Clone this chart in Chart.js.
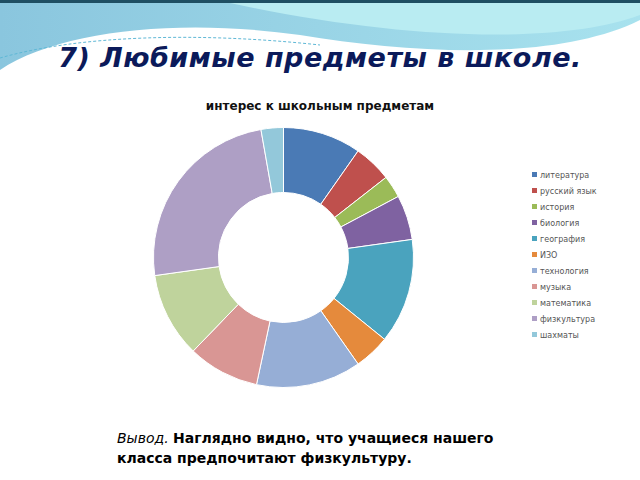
<!DOCTYPE html>
<html>
<head>
<meta charset="utf-8">
<script src="https://cdn.jsdelivr.net/npm/chart.js@4"></script>
<style>
  body { margin: 0; width: 640px; height: 480px; background: #fff; position: relative; overflow: hidden; font-family: "DejaVu Sans", sans-serif; }
  #deco { position: absolute; left: 0; top: 0; }
  #title { position: absolute; left: 0; width: 640px; top: 42px; text-align: center; font-size: 27px; font-weight: bold; font-style: italic; color: #0b1a5a; letter-spacing: 0.5px; }
  #ctitle { position: absolute; left: 150px; width: 340px; top: 99px; text-align: center; font: bold 12px "DejaVu Sans", sans-serif; color: #111; }
  #wrap { position: absolute; left: 153px; top: 127px; width: 261px; height: 261px; }
  #legend { position: absolute; left: 532px; top: 169px; font: 8px "DejaVu Sans", sans-serif; color: #555; }
  #legend div { height: 16px; line-height: 14px; white-space: nowrap; }
  #legend span { display: inline-block; width: 5px; height: 5px; margin-right: 3px; vertical-align: 1px; }
  #concl { position: absolute; left: 117px; top: 428px; font-size: 14px; color: #000; line-height: 20px; }
</style>
</head>
<body>
<svg id="deco" width="640" height="80">
  <defs>
    <linearGradient id="g1" x1="0" x2="1"><stop offset="0" stop-color="#8ac6de"/><stop offset="1" stop-color="#a8e2ee"/></linearGradient>
  </defs>
  <rect x="0" y="0" width="640" height="3" fill="#1f4f63"/>
  <path d="M0,3 L640,3 L640,20 C560,60 420,55 300,35 C180,18 60,30 0,70 Z" fill="url(#g1)"/>
  <path d="M230,3 L640,3 L640,15 C560,45 400,40 230,3 Z" fill="#b9ecf2"/>
  <path d="M0,58 C80,35 200,32 320,45" fill="none" stroke="#5fb8d6" stroke-width="1" stroke-dasharray="3,2"/>
</svg>
<div id="title">7) Любимые предметы в школе.</div>
<div id="ctitle">интерес к школьным предметам</div>
<div id="wrap"><canvas id="c"></canvas></div>
<div id="legend"></div>
<div id="concl"><i>Вывод.</i> <b>Наглядно видно, что учащиеся нашего<br>класса предпочитают физкультуру.</b></div>
<script>
const subjects = ['литература', 'русский язык', 'история', 'биология', 'география', 'ИЗО', 'технология', 'музыка', 'математика', 'физкультура', 'шахматы'];
const shares = [35, 17, 10, 20, 47, 16, 47, 32, 38, 88, 10];
const colors = ['#4a7ab5', '#bf504d', '#9bbb58', '#7f62a1', '#4aa3be', '#e58a3c', '#96aed6', '#d99694', '#bfd39c', '#ae9fc5', '#93c8da'];

const legend = document.getElementById('legend');
subjects.forEach((s, i) => {
    const d = document.createElement('div');
    d.innerHTML = `<span style="background:${colors[i]}"></span>${s}`;
    legend.appendChild(d);
});

new Chart(document.getElementById('c'), {
    type: 'doughnut',
    data: {
        labels: subjects,
        datasets: [{
            data: shares,
            backgroundColor: colors,
            borderColor: '#fff',
            borderWidth: 1
        }]
    },
    options: {
        responsive: true,
        maintainAspectRatio: false,
        animation: false,
        cutout: '50%',
        layout: { padding: 0 },
        plugins: {
            legend: { display: false },
            tooltip: { enabled: false }
        }
    }
});
</script>
</body>
</html>
